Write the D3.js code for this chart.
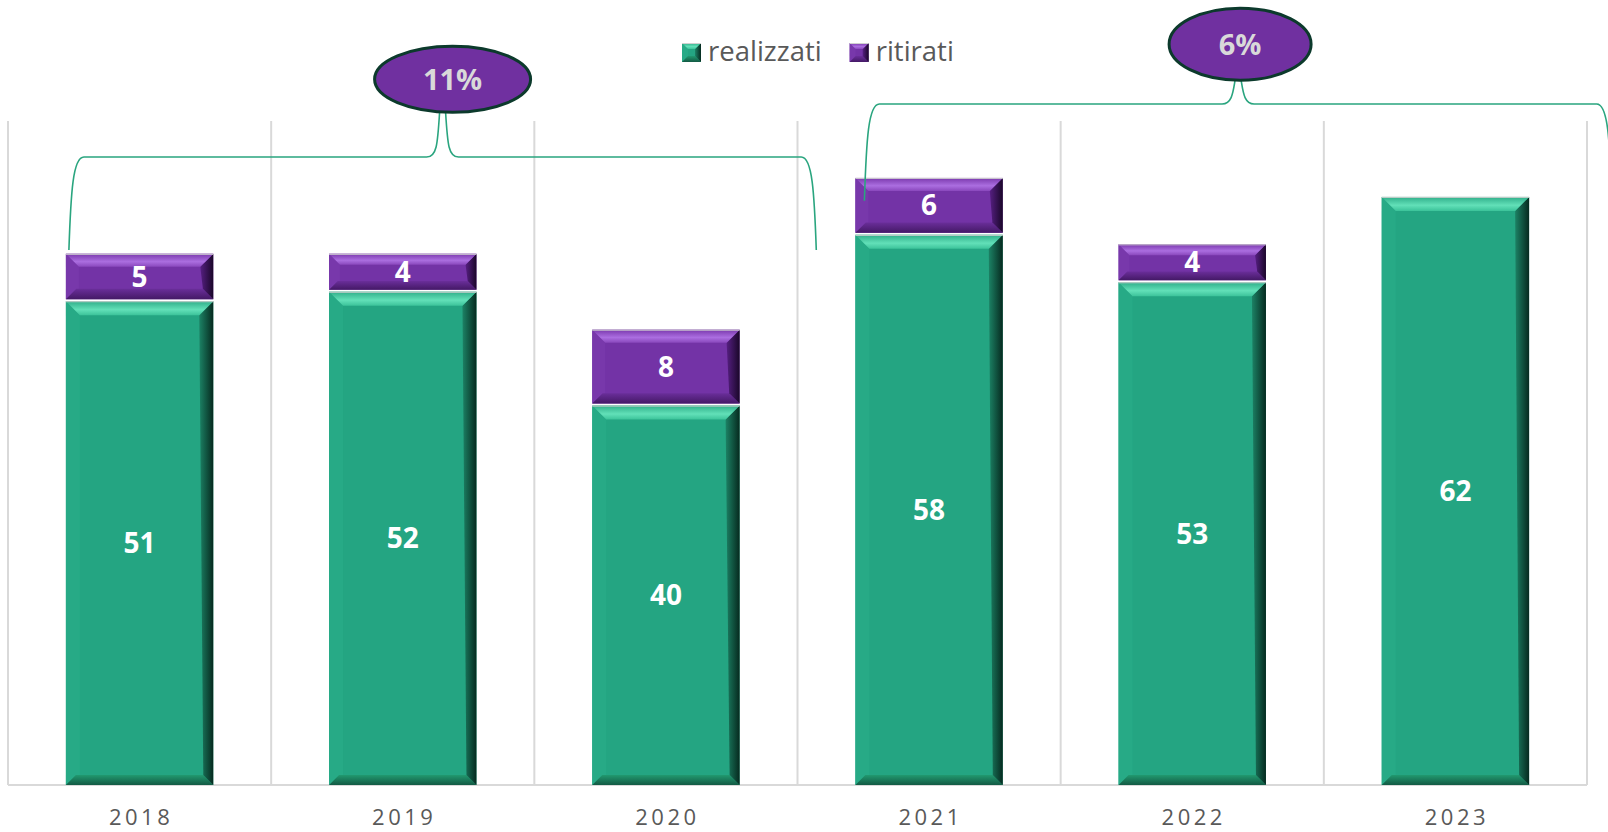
<!DOCTYPE html>
<html>
<head>
<meta charset="utf-8">
<script src="https://cdn.jsdelivr.net/npm/d3@7"></script>
<style>
  body { margin: 0; background: #fff; }
  svg { display: block; font-family: "Open Sans", sans-serif; }
</style>
</head>
<body>
<svg id="chart" width="1608" height="832"></svg>
<script>
// chart data
const years = ["2018", "2019", "2020", "2021", "2022", "2023"];
const realizzati = [51, 52, 40, 58, 53, 62];
const ritirati = [5, 4, 8, 6, 4, 0];
const seriesNames = ["realizzati", "ritirati"];

// bracket annotations (first year, label)
const bracketFrom = ["2018", "2021"];
const bracketLabels = ["11%", "6%"];

const plot = { left: 8, right: 1587, top: 121, bottom: 785 };

const svg = d3.select("#chart");

const x = d3.scaleBand()
  .domain(years)
  .range([plot.left, plot.right])
  .paddingInner(0.44)
  .paddingOuter(0.22);
const step = x.step();

const y = d3.scaleLinear()
  .domain([0, 70])
  .range([plot.bottom, plot.top]);

// colours for the bevelled bars
const palette = {
  realizzati: { face: "#24a582", top: ["#2fae89", "#62e0b8", "#3cc39a"], left: "#27aa86",
                bottom: ["#21996f", "#135a44"], right: ["#1c8265", "#062a1f"] },
  ritirati:   { face: "#7333a6", top: ["#7a38ad", "#ab6ee0", "#8a48bd"], left: "#7838ab",
                bottom: ["#6a2e9a", "#441966"], right: ["#561f82", "#1a0729"] }
};

const defs = svg.append("defs");
Object.entries(palette).forEach(([k, c]) => {
  const gt = defs.append("linearGradient").attr("id", "top-" + k)
    .attr("x1", 0).attr("y1", 0).attr("x2", 0).attr("y2", 1);
  gt.append("stop").attr("offset", "0%").attr("stop-color", c.top[0]);
  gt.append("stop").attr("offset", "60%").attr("stop-color", c.top[1]);
  gt.append("stop").attr("offset", "100%").attr("stop-color", c.top[2]);
  const gr = defs.append("linearGradient").attr("id", "right-" + k)
    .attr("x1", 0).attr("y1", 0).attr("x2", 1).attr("y2", 0);
  gr.append("stop").attr("offset", "0%").attr("stop-color", c.right[0]);
  gr.append("stop").attr("offset", "100%").attr("stop-color", c.right[1]);
  const gb = defs.append("linearGradient").attr("id", "bottom-" + k)
    .attr("x1", 0).attr("y1", 0).attr("x2", 0).attr("y2", 1);
  gb.append("stop").attr("offset", "0%").attr("stop-color", c.bottom[0]);
  gb.append("stop").attr("offset", "100%").attr("stop-color", c.bottom[1]);
});

// draws a bevelled box like the Excel "angle" bevel
function bevelBox(g, bx, by, bw, bh, key, b, bb) {
  const c = palette[key];
  const pts = a => a.map(p => p.join(",")).join(" ");
  g.append("rect").attr("x", bx).attr("y", by).attr("width", bw).attr("height", bh)
    .attr("fill", c.face);
  g.append("polygon").attr("points", pts([[bx, by], [bx + b, by + b], [bx + b, by + bh - bb], [bx, by + bh]]))
    .attr("fill", c.left);
  g.append("polygon").attr("points", pts([[bx, by + bh], [bx + bw, by + bh], [bx + bw - bb, by + bh - bb], [bx + bb, by + bh - bb]]))
    .attr("fill", `url(#bottom-${key})`);
  g.append("polygon").attr("points", pts([[bx + bw, by], [bx + bw - b, by + b], [bx + bw - bb, by + bh - bb], [bx + bw, by + bh]]))
    .attr("fill", `url(#right-${key})`);
  g.append("polygon").attr("points", pts([[bx, by], [bx + bw, by], [bx + bw - b, by + b], [bx + b, by + b]]))
    .attr("fill", `url(#top-${key})`);
  g.append("line").attr("x1", bx).attr("x2", bx + bw).attr("y1", by + 0.5).attr("y2", by + 0.5)
    .attr("stroke", "#d0d0d0").attr("stroke-width", 1);
}

// gridlines at category boundaries
const bounds = years.map(d => x(d) - step * x.paddingOuter()).concat([plot.right]);
svg.append("g").selectAll("line").data(bounds).join("line")
  .attr("x1", d => d).attr("x2", d => d)
  .attr("y1", plot.top).attr("y2", plot.bottom)
  .attr("stroke", "#d9d9d9").attr("stroke-width", 2);
svg.append("line")
  .attr("x1", plot.left).attr("x2", plot.right)
  .attr("y1", plot.bottom).attr("y2", plot.bottom)
  .attr("stroke", "#d9d9d9").attr("stroke-width", 2);

// bars
const bars = svg.append("g");
years.forEach((yr, i) => {
  const bx = x(yr), bw = x.bandwidth();
  const r = realizzati[i], t = ritirati[i];
  const g = bars.append("g");
  const gy = y(r), gh = y(0) - y(r);
  bevelBox(g, bx, gy, bw, gh, "realizzati", 14, 10);
  g.append("text").attr("x", bx + bw / 2).attr("y", gy + gh / 2).attr("dy", "0.36em")
    .attr("text-anchor", "middle").attr("fill", "#fff").attr("font-weight", 700)
    .attr("font-size", 28).text(r);
  if (t > 0) {
    const py = y(r + t), ph = y(r) - y(r + t) - 2;
    const b = Math.min(13, ph / 3.3);
    bevelBox(g, bx, py, bw, ph, "ritirati", b, b * 0.8);
    g.append("text").attr("x", bx + bw / 2).attr("y", py + ph / 2).attr("dy", "0.36em")
      .attr("text-anchor", "middle").attr("fill", "#fff").attr("font-weight", 700)
      .attr("font-size", 28).text(t);
  }
});

// x axis labels
svg.append("g").selectAll("text").data(years).join("text")
  .attr("x", d => x(d) + x.bandwidth() / 2 + 1.5)
  .attr("y", 825)
  .attr("text-anchor", "middle")
  .attr("fill", "#595959")
  .attr("font-size", 22)
  .attr("letter-spacing", "3.5px")
  .text(d => d);

// legend
const legend = svg.append("g");
let lx = 682;
seriesNames.forEach(name => {
  const g = legend.append("g");
  bevelBox(g, lx, 43, 19, 19, name, 6, 6);
  const txt = g.append("text").attr("x", lx + 26).attr("y", 60.5)
    .attr("fill", "#595959").attr("font-size", 27.5).text(name);
  lx += 26 + txt.node().getComputedTextLength() + 28;
});

// brackets with percentage bubbles
const braceLayout = [
  { yH: 66.2, yEnd: 56.4, cy: 74.4, rx: 78, ry: 33, dx: 10, x0: 3 },
  { yH: 71.8, yEnd: 61.6, cy: 78.1, rx: 71, ry: 36, dx: 2, x0: 9 }
];
const ann = svg.append("g");
bracketFrom.forEach((yr, i) => {
  const L = braceLayout[i];
  const xL = x(yr) + L.x0;
  const xR = xL + 2.84 * step;
  const xc = (xL + xR) / 2;
  const yH = y(L.yH), yE = y(L.yEnd);
  const ecy = y(L.cy);
  const yTop = ecy + L.ry;
  const p = d3.path();
  p.moveTo(xL, yE);
  p.bezierCurveTo(xL + 2, yH + 35, xL + 4, yH, xL + 15, yH);
  p.lineTo(xc - 16, yH);
  p.bezierCurveTo(xc - 6, yH, xc - 5, yH - 12, xc - 3, yTop);
  p.moveTo(xc + 3, yTop);
  p.bezierCurveTo(xc + 5, yH - 12, xc + 6, yH, xc + 16, yH);
  p.lineTo(xR - 15, yH);
  p.bezierCurveTo(xR - 4, yH, xR - 2, yH + 35, xR, yE);
  ann.append("path").attr("d", p.toString())
    .attr("fill", "none").attr("stroke", "#2aa57f").attr("stroke-width", 1.6);
  ann.append("ellipse")
    .attr("cx", xc + L.dx).attr("cy", ecy).attr("rx", L.rx).attr("ry", L.ry)
    .attr("fill", "#7030a0").attr("stroke", "#0c3a2c").attr("stroke-width", 3);
  ann.append("text").attr("x", xc + L.dx).attr("y", ecy).attr("dy", "0.36em")
    .attr("text-anchor", "middle").attr("fill", "#d9d9d9").attr("font-weight", 700)
    .attr("font-size", 29).text(bracketLabels[i]);
});
</script>
</body>
</html>
